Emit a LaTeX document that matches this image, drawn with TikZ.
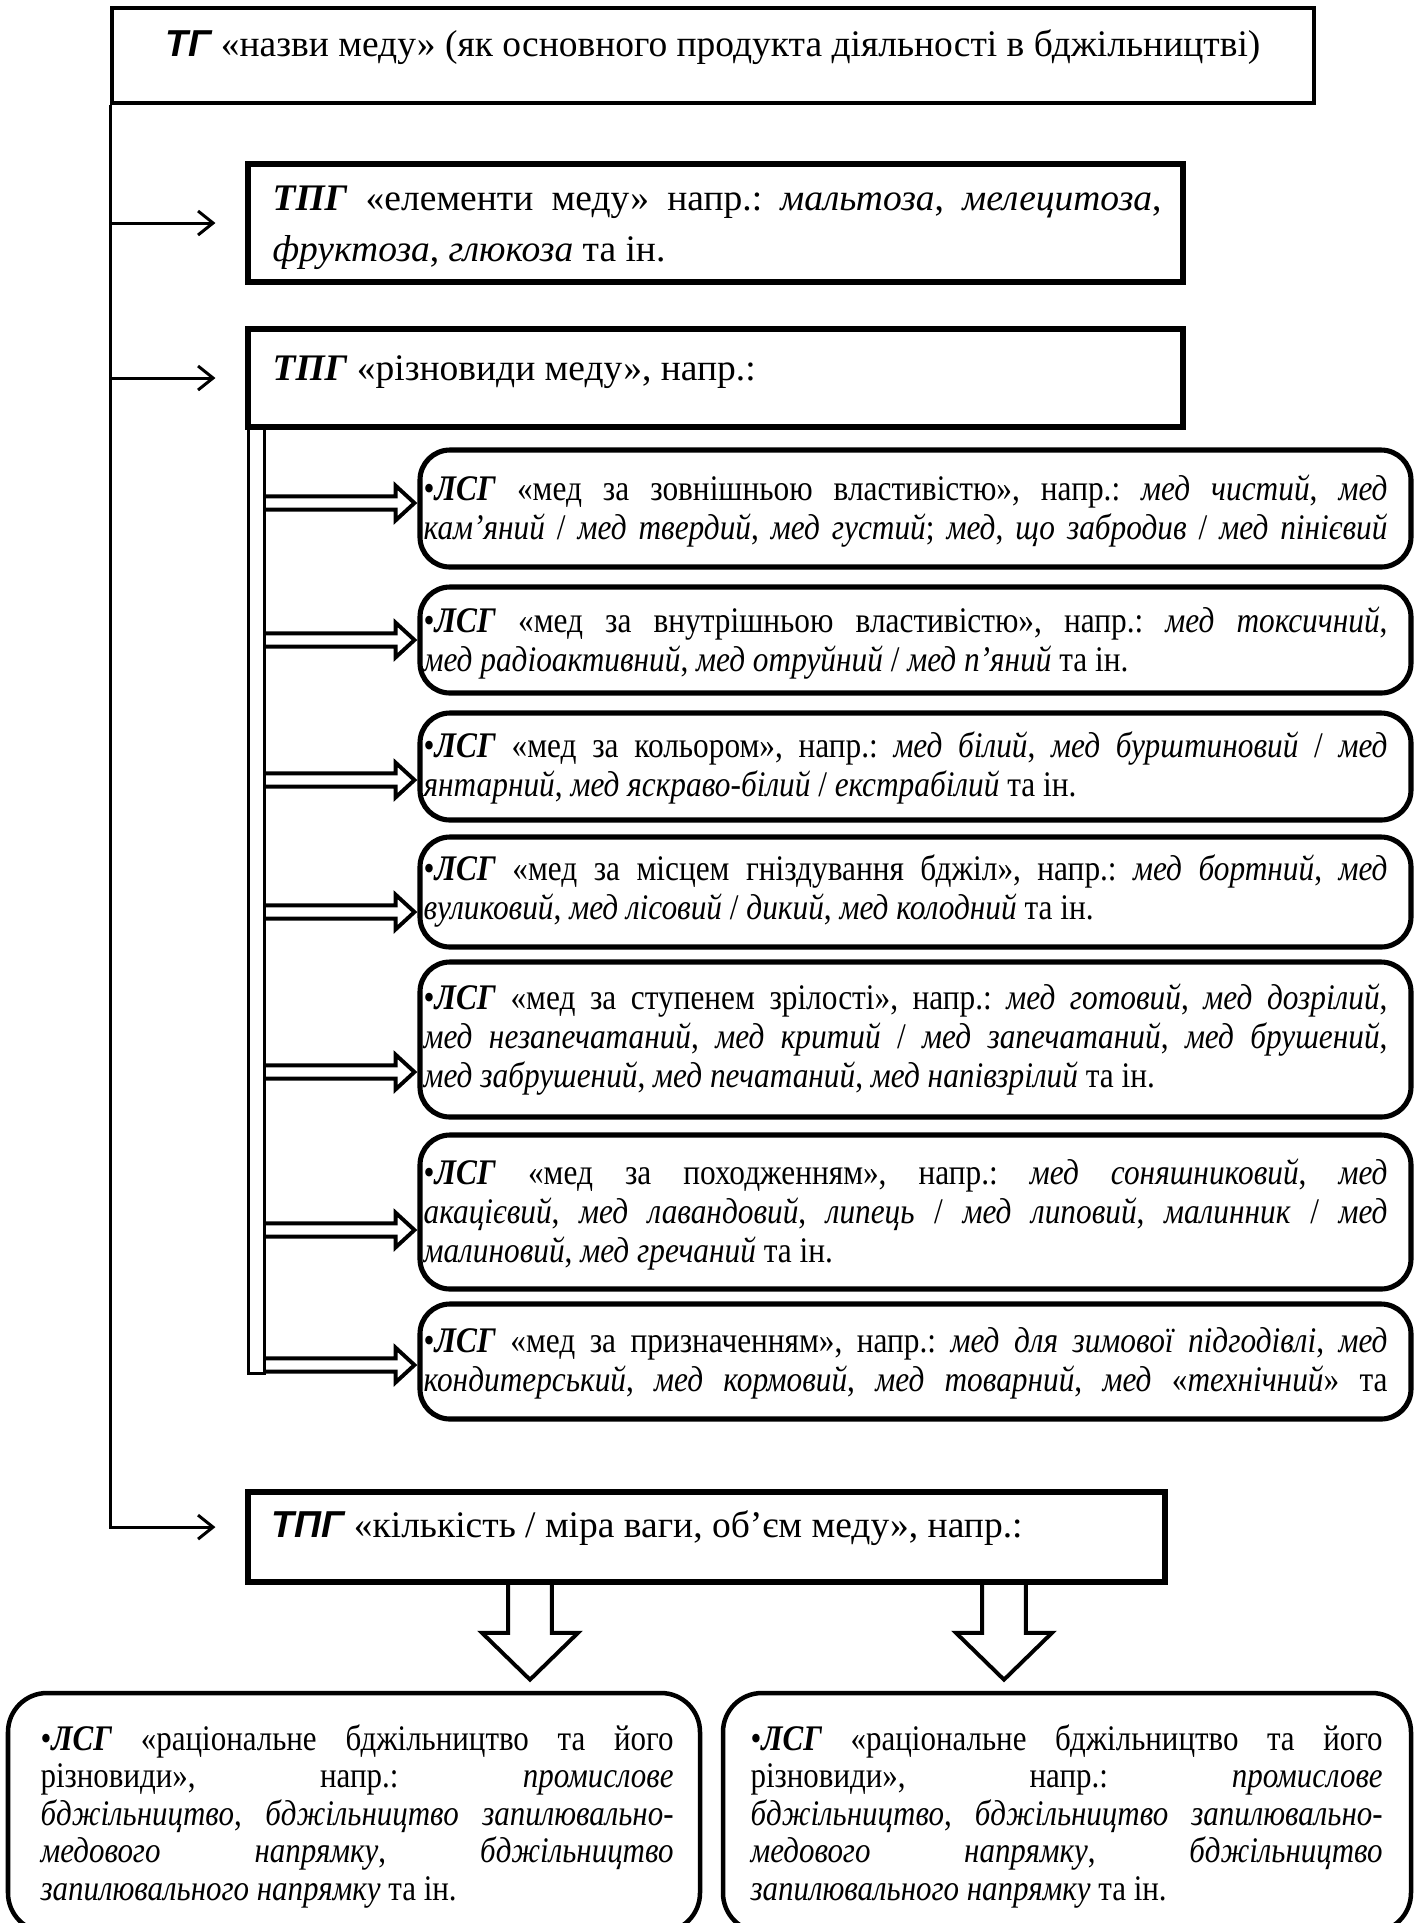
\documentclass[tikz,border=0pt]{standalone}
\usepackage{fontspec}
\setmainfont{Liberation Serif}
\newfontfamily\headsans{Liberation Sans}
\newfontfamily\narrowA{Liberation Serif}[FakeStretch=0.87]
\newfontfamily\narrowB{Liberation Serif}[FakeStretch=0.86]
\usetikzlibrary{arrows.meta,fit,calc}
\frenchspacing

% one fully justified line of a paragraph; \jw holds the paragraph width
\def\jw{300pt}
\newcommand\jl[1]{\hbox to \jw{\spaceskip=0pt\xspaceskip=0pt #1}}
\newcommand\LSG{\textbf{\textit{ЛСГ}}}
\newcommand\TPG{\textbf{\textit{ТПГ}}}

% hollow arrow pointing right, from node #1 to node #2 at height #3
\newcommand\hollowR[3]{%
  \path (#1.east |- 0,#3) coordinate (hs) (#2.west |- 0,#3) coordinate (he);
  \draw[hollow] let \p1=(hs), \p2=(he) in
    (\x1,\y1+2.2pt) -- (\x2-7.3pt,\y1+2.2pt) -- (\x2-7.3pt,\y1+5.8pt)
    -- (\x2-1pt,\y1) -- (\x2-7.3pt,\y1-5.8pt) -- (\x2-7.3pt,\y1-2.2pt)
    -- (\x1,\y1-2.2pt);
}
% hollow arrow pointing down, from node #1 to node #2 at abscissa #3
\newcommand\hollowD[3]{%
  \path (#1.south -| #3,0) coordinate (hs) (#2.north -| #3,0) coordinate (he);
  \draw[hollow] let \p1=(hs), \p2=(he) in
    (\x1-7.3pt,\y1) -- (\x1-7.3pt,\y2+19.3pt) -- (\x1-16pt,\y2+19.3pt)
    -- (\x1,\y2+3.7pt) -- (\x1+16pt,\y2+19.3pt) -- (\x1+7.3pt,\y2+19.3pt)
    -- (\x1+7.3pt,\y1);
}

\tikzset{
  headbox/.style={draw, line width=1.1pt, inner sep=0pt},
  sqbox/.style={draw, line width=1.7pt, inner sep=0pt},
  rbox/.style={draw, line width=1.7pt, rounded corners=10pt, inner sep=0pt},
  bbox/.style={draw, line width=1.5pt, rounded corners=13pt, inner sep=0pt},
  rail/.style={draw, line width=1pt, inner sep=0pt},
  para/.style={inner sep=0pt, anchor=base west, align=justify,
    font=\def\jw{321.3pt}\narrowA\fontsize{12}{13}\selectfont},
  oneline/.style={inner sep=0pt, anchor=base west, font=\fontsize{12.5}{14}\selectfont},
  link/.style={line width=1pt, -{Straight Barb[length=5pt,width=8pt]}},
  hollow/.style={draw, line width=1.3pt, line join=miter},
}

\begin{document}
\begin{tikzpicture}[x=0.33333pt, y=-0.33333pt]
\path[use as bounding box] (0,0) rectangle (1416,1923);
\clip (0,0) rectangle (1416,1923);

% thematic group
\node[headbox, fit={(112,8)(1314,103)}] (tg) {};
\node[oneline, anchor=base] (tgtext) at (713,56)
  {{\headsans\bfseries\itshape ТГ} «назви меду» (як основного продукта діяльності в бджільництві)};

% subgroups
\node[sqbox, fit={(248,164)(1183,282)}] (elem) {};
\node[para, text width=296.3pt, font=\def\jw{296.3pt}\fontsize{12.5}{17}\selectfont] (elemtext) at (272,210) {%
  \jl{\TPG{} «елементи меду» напр.: \textit{мальтоза}, \textit{мелецитоза},}
  \hbox{\textit{фруктоза}, \textit{глюкоза} та ін.}};

\node[sqbox, fit={(248,329)(1183,427)}] (kinds) {};
\node[oneline] (kindstext) at (272,380) {\TPG{} «різновиди меду», напр.:};

\node[rail, fit={(248,427)(264,1373)}] (railbar) {};

% lexical-semantic groups of honey kinds
\node[rbox, fit={(420,450)(1411,567)}] (r1) {};
\node[para, text width=321.3pt] (r1text) at (423,500) {%
  \jl{•\LSG{} «мед за зовнішньою властивістю», напр.: \textit{мед чистий}, \textit{мед}}
  \jl{\textit{кам’яний} / \textit{мед твердий}, \textit{мед густий}; \textit{мед}, \textit{що забродив} / \textit{мед пінієвий}}};

\node[rbox, fit={(420,587)(1411,693)}] (r2) {};
\node[para, text width=321.3pt] (r2text) at (423,632) {%
  \jl{•\LSG{} «мед за внутрішньою властивістю», напр.: \textit{мед токсичний},}
  \hbox{\textit{мед радіоактивний}, \textit{мед отруйний} / \textit{мед п’яний} та ін.}};

\node[rbox, fit={(420,713)(1411,820)}] (r3) {};
\node[para, text width=321.3pt] (r3text) at (423,757) {%
  \jl{•\LSG{} «мед за кольором», напр.: \textit{мед білий}, \textit{мед бурштиновий} / \textit{мед}}
  \hbox{\textit{янтарний}, \textit{мед яскраво-білий} / \textit{екстрабілий} та ін.}};

\node[rbox, fit={(420,837)(1411,947)}] (r4) {};
\node[para, text width=321.3pt] (r4text) at (423,880) {%
  \jl{•\LSG{} «мед за місцем гніздування бджіл», напр.: \textit{мед бортний}, \textit{мед}}
  \hbox{\textit{вуликовий}, \textit{мед лісовий} / \textit{дикий}, \textit{мед колодний} та ін.}};

\node[rbox, fit={(420,962)(1411,1117)}] (r5) {};
\node[para, text width=321.3pt] (r5text) at (423,1009) {%
  \jl{•\LSG{} «мед за ступенем зрілості», напр.: \textit{мед готовий}, \textit{мед дозрілий},}
  \jl{\textit{мед незапечатаний}, \textit{мед критий} / \textit{мед запечатаний}, \textit{мед брушений},}
  \hbox{\textit{мед забрушений}, \textit{мед печатаний}, \textit{мед напівзрілий} та ін.}};

\node[rbox, fit={(420,1135)(1411,1289)}] (r6) {};
\node[para, text width=321.3pt] (r6text) at (423,1184) {%
  \jl{•\LSG{} «мед за походженням», напр.: \textit{мед соняшниковий}, \textit{мед}}
  \jl{\textit{акацієвий}, \textit{мед лавандовий}, \textit{липець} / \textit{мед липовий}, \textit{малинник} / \textit{мед}}
  \hbox{\textit{малиновий}, \textit{мед гречаний} та ін.}};

\node[rbox, fit={(420,1304)(1411,1419)}] (r7) {};
\node[para, text width=321.3pt] (r7text) at (423,1352) {%
  \jl{•\LSG{} «мед за призначенням», напр.: \textit{мед для зимової підгодівлі}, \textit{мед}}
  \jl{\textit{кондитерський}, \textit{мед кормовий}, \textit{мед товарний}, \textit{мед} «\textit{технічний}» та}};

% quantity subgroup
\node[sqbox, fit={(248,1492)(1165,1582)}] (qty) {};
\node[oneline] (qtytext) at (271,1537)
  {{\headsans\bfseries\itshape ТПГ} «кількість / міра ваги, об’єм меду», напр.:};

\node[bbox, fit={(8,1693)(700,1932)}] (leftb) {};
\node[para, text width=211pt, font=\def\jw{211pt}\narrowB\fontsize{12}{12.5}\selectfont] (lefttext) at (40,1750) {%
  \jl{•\LSG{} «раціональне бджільництво та його}
  \jl{різновиди», напр.: \textit{промислове}}
  \jl{\textit{бджільництво}, \textit{бджільництво запилювально-}}
  \jl{\textit{медового напрямку}, \textit{бджільництво}}
  \hbox{\textit{запилювального напрямку} та ін.}};

\node[bbox, fit={(723,1693)(1411,1932)}] (rightb) {};
\node[para, text width=210.7pt, font=\def\jw{210.7pt}\narrowB\fontsize{12}{12.5}\selectfont] (righttext) at (750,1750) {%
  \jl{•\LSG{} «раціональне бджільництво та його}
  \jl{різновиди», напр.: \textit{промислове}}
  \jl{\textit{бджільництво}, \textit{бджільництво запилювально-}}
  \jl{\textit{медового напрямку}, \textit{бджільництво}}
  \hbox{\textit{запилювального напрямку} та ін.}};

% connectors from the thematic group
\draw[link] (tg.south west) |- ([xshift=-10pt,yshift=3.3pt]qty.west);
\draw[link] (tg.south west |- elem.west) -- ([xshift=-10pt]elem.west);
\draw[link] (tg.south west |- kinds.west) -- ([xshift=-10pt]kinds.west);

% hollow arrows from the rail
\hollowR{railbar}{r1}{503}
\hollowR{railbar}{r2}{640}
\hollowR{railbar}{r3}{780}
\hollowR{railbar}{r4}{912}
\hollowR{railbar}{r5}{1072}
\hollowR{railbar}{r6}{1230}
\hollowR{railbar}{r7}{1365}

% hollow arrows below the quantity subgroup
\hollowD{qty}{leftb}{530}
\hollowD{qty}{rightb}{1004}
\end{tikzpicture}
\end{document}
